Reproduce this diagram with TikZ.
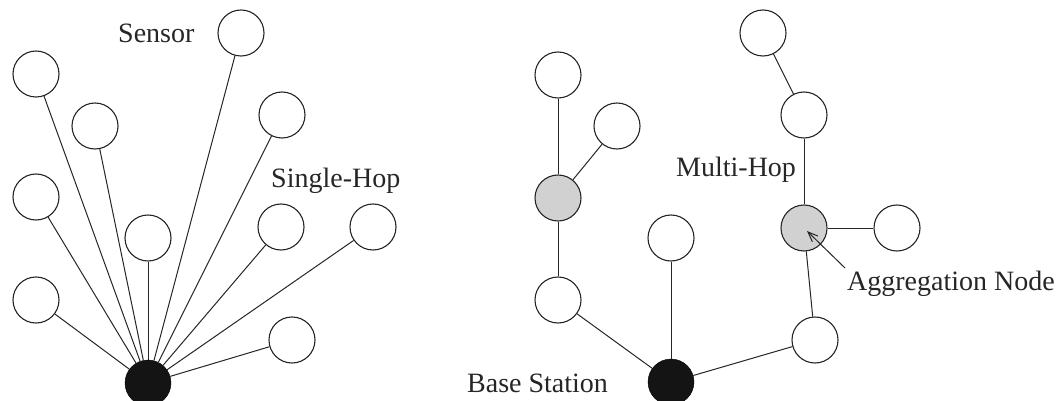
\documentclass[tikz,border=0pt]{standalone}
\usepackage{fontspec}
\setmainfont{Liberation Serif}
\usetikzlibrary{arrows.meta}
\begin{document}
\begin{tikzpicture}[x=1pt,y=-1pt,
  sensor/.style={circle,draw=black!85,line width=1.1pt,fill=white,minimum size=46pt,inner sep=0pt},
  agg/.style={sensor,fill=black!18},
  bs/.style={circle,draw=black,fill=black!92,minimum size=46pt,inner sep=0pt},
  link/.style={draw=black!85,line width=1pt},
  lbl/.style={font=\fontsize{28}{34}\selectfont,anchor=base west,inner sep=0pt,text=black!85}]
\useasboundingbox (0,0) rectangle (1061,401);
% left: single hop
\node[bs] (B1) at (148,383) {};
\node[sensor] (a1) at (36,74) {};
\node[sensor] (a2) at (95,126) {};
\node[sensor] (a3) at (241,33) {};
\node[sensor] (a4) at (282,115) {};
\node[sensor] (a5) at (36,197) {};
\node[sensor] (a6) at (148,238) {};
\node[sensor] (a7) at (281,227) {};
\node[sensor] (a8) at (373,227) {};
\node[sensor] (a9) at (36,300) {};
\node[sensor] (a10) at (292,340) {};
\foreach \n in {a1,a2,a3,a4,a5,a6,a7,a8,a9,a10} \draw[link] (\n) -- (B1);
\node[lbl] (sensorlbl) at (118,43) {Sensor};
\node[lbl] (shlbl) at (271,188) {Single-Hop};
% right: multi hop
\node[bs] (B2) at (671,382) {};
\node[sensor] (b1) at (558,75) {};
\node[sensor] (b2) at (617,126) {};
\node[agg] (g1) at (558,198) {};
\node[sensor] (b3) at (558,300) {};
\node[sensor] (b4) at (671,238) {};
\node[sensor] (b5) at (763,33) {};
\node[sensor] (b6) at (804,115) {};
\node[agg] (g2) at (804,228) {};
\node[sensor] (b7) at (897,228) {};
\node[sensor] (b8) at (815,340) {};
\draw[link] (b1) -- (g1);
\draw[link] (b2) -- (g1);
\draw[link] (g1) -- (b3);
\draw[link] (b3) -- (B2);
\draw[link] (b4) -- (B2);
\draw[link] (B2) -- (b8);
\draw[link] (b8) -- (g2);
\draw[link] (g2) -- (b7);
\draw[link] (g2) -- (b6);
\draw[link] (b6) -- (b5);
\node[lbl] (mhlbl) at (676,177) {Multi-Hop};
\node[lbl] (bslbl) at (467,392) {Base Station};
\node[lbl] (aglbl) at (847,290) {Aggregation Node};
\coordinate (tip) at (807,231);
\coordinate (tail) at (845,268);
\draw[link,-{Straight Barb[length=10pt,width=8pt]}] (tail) -- (tip);
\end{tikzpicture}
\end{document}
